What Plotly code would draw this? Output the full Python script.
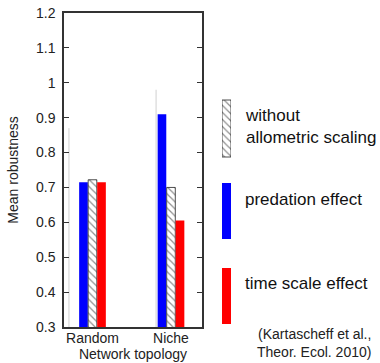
import plotly.graph_objects as go

categories = ["Random", "Niche"]
predation = [0.715, 0.910]
without_allometric = [0.722, 0.700]
time_scale = [0.715, 0.605]
y_ticks = [0.3, 0.4, 0.5, 0.6, 0.7, 0.8, 0.9, 1.0, 1.1, 1.2]
y_tick_labels = ["0.3", "0.4", "0.5", "0.6", "0.7", "0.8", "0.9", "1", "1.1", "1.2"]
# faint vertical guide lines seen in the picture (top values)
faint_top = [0.87, 0.98]
faint_offset = [-0.30, -0.19]

FONT = "Liberation Sans, Arial, sans-serif"
W, H = 380, 363
ML, MR, MT, MB = 64, 10, 13, 36
PW = W - ML - MR
PH = H - MT - MB
x_main_right = (202 - ML) / PW

xs = list(range(len(categories)))
BW = 0.11

fig = go.Figure()

# faint lines
fx, fy = [], []
for i, t in enumerate(faint_top):
    fx += [xs[i] + faint_offset[i], xs[i] + faint_offset[i], None]
    fy += [0.3, t, None]
fig.add_trace(go.Scatter(x=fx, y=fy, mode="lines", line=dict(color="#d0d0d0", width=1),
                         showlegend=False, hoverinfo="skip"))

HATCH = dict(shape="\\", size=5, solidity=0.25, fgcolor="#222", bgcolor="white")

fig.add_trace(go.Bar(x=xs, y=predation, offset=-0.17, width=BW,
                     marker=dict(color="#0000ff", line=dict(width=0)), name="predation effect"))
fig.add_trace(go.Bar(x=xs, y=without_allometric, offset=-0.055, width=BW,
                     marker=dict(color="white", line=dict(color="#222", width=0.8), pattern=HATCH),
                     name="without allometric scaling"))
fig.add_trace(go.Bar(x=xs, y=time_scale, offset=0.06, width=BW,
                     marker=dict(color="#ff0000", line=dict(width=0)), name="time scale effect"))

# legend swatches on a separate axis (pixel-like coordinates from top)
sw_x0 = (222 - ML) / PW
sw_x1 = (231 - ML) / PW
legend_items = [
    (100, 57, "hatch"),
    (183, 56, "#0000ff"),
    (268, 56, "#ff0000"),
]
for top, hgt, col in legend_items:
    if col == "hatch":
        mk = dict(color="white", line=dict(color="#222", width=0.8), pattern=HATCH)
    else:
        mk = dict(color=col, line=dict(width=0))
    fig.add_trace(go.Bar(x=[0], y=[hgt], base=[top], width=[1], marker=mk,
                         xaxis="x2", yaxis="y2", showlegend=False, hoverinfo="skip"))

text_y = [(126.5, "without<br>allometric scaling"), (199, "predation effect"), (283, "time scale effect")]
for yy, txt in text_y:
    fig.add_annotation(text=txt, x=(243 - ML) / PW, y=1 - (yy - MT) / PH, xref="paper", yref="paper",
                       xanchor="left", yanchor="middle", align="left", showarrow=False,
                       font=dict(family=FONT, size=17, color="#111"))

fig.add_annotation(text="(Kartascheff et al.,<br>Theor. Ecol. 2010)", x=(373 - ML) / PW,
                   y=1 - (343 - MT) / PH, xref="paper", yref="paper",
                   xanchor="right", yanchor="middle", align="right", showarrow=False,
                   font=dict(family=FONT, size=14, color="#222"))

fig.update_layout(
    width=W, height=H,
    margin=dict(l=ML, r=MR, t=MT, b=MB, autoexpand=False),
    paper_bgcolor="white", plot_bgcolor="white",
    showlegend=False,
    barmode="overlay",
    font=dict(family=FONT, size=14, color="#222"),
    xaxis=dict(domain=[0, x_main_right], range=[-0.363, 1.395],
               tickvals=xs, ticktext=categories, ticks="", showgrid=False, zeroline=False,
               showline=True, linecolor="#333", linewidth=1.5, mirror=True,
               tickfont=dict(size=14), ticklabelstandoff=-3,
               title=dict(text="Network topology", standoff=4, font=dict(size=14))),
    yaxis=dict(range=[0.3, 1.2], tickvals=y_ticks, ticktext=y_tick_labels,
               ticks="inside", ticklen=5, tickcolor="#333", tickwidth=1.2,
               showgrid=False, zeroline=False, showline=True, linecolor="#333", linewidth=1.5,
               mirror="ticks", tickfont=dict(size=14), ticklabelstandoff=4,
               title=dict(text="Mean robustness", standoff=14, font=dict(size=14))),
    xaxis2=dict(domain=[sw_x0, sw_x1], range=[-0.5, 0.5], visible=False, anchor="y2"),
    yaxis2=dict(domain=[0, 1], range=[MT + PH, MT], visible=False, anchor="x2"),
)

fig.write_html("out.html", config={"displayModeBar": False},
               post_script="document.body.style.margin='0';document.body.style.overflow='hidden';")
